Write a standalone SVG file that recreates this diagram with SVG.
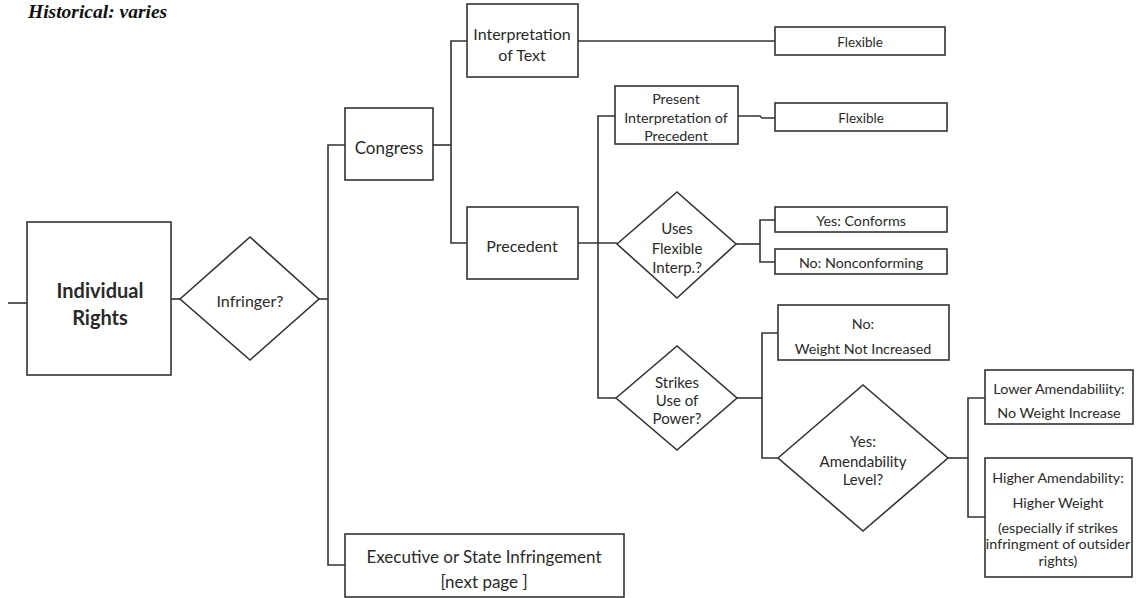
<svg xmlns="http://www.w3.org/2000/svg" width="1138" height="598" viewBox="0 0 1138 598">
<style>
.b{fill:#fff;stroke:#333;stroke-width:1.6}
.c{fill:none;stroke:#333;stroke-width:1.6}
text{font-family:Lato,"Liberation Sans",sans-serif;fill:#2a2a2a;text-anchor:middle;dominant-baseline:central}
.s13{font-size:13.5px}.s14{font-size:14.3px}.s15{font-size:15px}.s16{font-size:16px}.s17{font-size:17px}
</style>
<rect width="1138" height="598" fill="#fff"/>
<text x="28" y="11" style="font-family:'Liberation Serif',serif;font-weight:bold;font-style:italic;font-size:19.5px;text-anchor:start;fill:#111">Historical: varies</text>
<g id="connectors" class="c">
<path d="M8 303H27"/>
<path d="M171 299H180"/>
<path d="M319 299H328"/>
<path d="M345 145H328V565H345"/>
<path d="M433 145H451"/>
<path d="M467 41H451V243H467"/>
<path d="M578 41H775"/>
<path d="M578 243H617"/>
<path d="M615 116H598V398H616"/>
<path d="M738 116H760L762 118H775"/>
<path d="M736 244H760"/>
<path d="M775 220H760V262H775"/>
<path d="M737 398H762"/>
<path d="M778 333H762V458H778"/>
<path d="M948 458H968"/>
<path d="M985 398H968V517H985"/>
</g>
<g id="individual-rights"><rect class="b" x="27" y="222" width="144" height="153"/><text x="100" y="290" style="font-weight:bold;font-size:20px">Individual</text><text x="100" y="317" style="font-weight:bold;font-size:20px">Rights</text></g>
<g id="infringer"><polygon class="b" points="180,299 250,237 319,299 250,360"/><text class="s16" x="250" y="300">Infringer?</text></g>
<g id="congress"><rect class="b" x="345" y="108" width="88" height="72"/><text class="s17" x="389" y="147">Congress</text></g>
<g id="interp-text"><rect class="b" x="467" y="4" width="111" height="73"/><text class="s16" x="522" y="33">Interpretation</text><text class="s16" x="522" y="54">of Text</text></g>
<g id="flexible-1"><rect class="b" x="775" y="27" width="170" height="28"/><text class="s13" x="860" y="42">Flexible</text></g>
<g id="precedent"><rect class="b" x="467" y="207" width="111" height="72"/><text class="s16" x="522" y="245">Precedent</text></g>
<g id="present-interp"><rect class="b" x="615" y="86" width="123" height="58"/><text class="s14" x="676" y="98">Present</text><text class="s14" x="676" y="117">Interpretation of</text><text class="s14" x="676" y="135">Precedent</text></g>
<g id="flexible-2"><rect class="b" x="775" y="103" width="172" height="28"/><text class="s13" x="861" y="118">Flexible</text></g>
<g id="uses-flexible"><polygon class="b" points="617,244 677,192 736,244 677,298"/><text class="s15" x="677" y="228">Uses</text><text class="s15" x="677" y="248">Flexible</text><text class="s15" x="677" y="267">Interp.?</text></g>
<g id="yes-conforms"><rect class="b" x="775" y="207" width="172" height="25"/><text class="s14" x="861" y="220">Yes: Conforms</text></g>
<g id="no-nonconforming"><rect class="b" x="775" y="249" width="172" height="25"/><text class="s14" x="861" y="262">No: Nonconforming</text></g>
<g id="strikes"><polygon class="b" points="616,398 677,346 737,398 677,450"/><text class="s15" x="677" y="382">Strikes</text><text class="s15" x="677" y="400">Use of</text><text class="s15" x="677" y="418">Power?</text></g>
<g id="no-weight"><rect class="b" x="778" y="305" width="171" height="55"/><text class="s14" x="863" y="323">No:</text><text class="s14" x="863" y="348">Weight Not  Increased</text></g>
<g id="amendability"><polygon class="b" points="778,458 863,385 948,458 863,531"/><text class="s15" x="863" y="441">Yes:</text><text class="s15" x="863" y="461">Amendability</text><text class="s15" x="863" y="479">Level?</text></g>
<g id="lower"><rect class="b" x="985" y="370" width="148" height="54"/><text class="s14" x="1059" y="388">Lower Amendabiliity:</text><text class="s14" x="1059" y="412">No Weight Increase</text></g>
<g id="higher"><rect class="b" x="985" y="458" width="147" height="119"/><text class="s14" x="1058" y="477">Higher Amendability:</text><text class="s14" x="1058" y="502">Higher Weight</text><text class="s14" x="1058" y="527">(especially if strikes</text><text class="s14" x="1058" y="543">infringment of outsider</text><text class="s14" x="1058" y="560">rights)</text></g>
<g id="executive"><rect class="b" x="345" y="534" width="279" height="63"/><text class="s17" x="484" y="556">Executive or State Infringement</text><text class="s17" x="484" y="581">[next page ]</text></g>
</svg>
